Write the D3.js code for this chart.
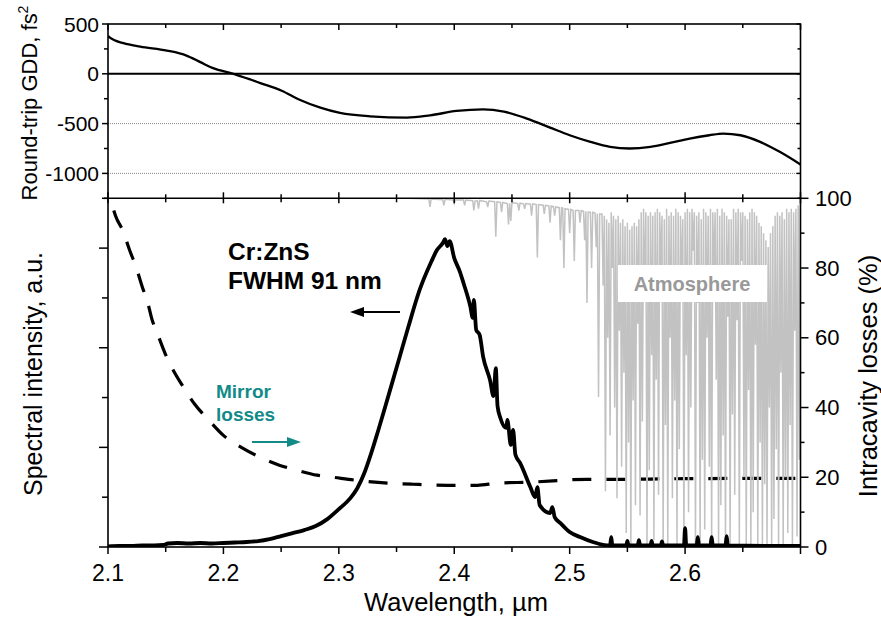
<!DOCTYPE html>
<html><head><meta charset="utf-8">
<script src="https://cdn.jsdelivr.net/npm/d3@7"></script>
<style>
body{margin:0;background:#fff}
svg{display:block}
text{font-family:"Liberation Sans",Arial,Helvetica,sans-serif}
</style>
</head><body>
<svg id="c" width="881" height="617"></svg>
<script>
// ---------------- DATA ----------------
const xTickLabels = ["2.1","2.2","2.3","2.4","2.5","2.6"];
const gddTickLabels = [500, 0, -500, -1000];
const lossTickLabels = [0, 20, 40, 60, 80, 100];

// Round-trip GDD (fs^2) vs wavelength (um)
const gddWave = [2.100,2.102,2.1135,2.128,2.151,2.168,2.180,2.191,2.2087,2.224,2.232,2.250,2.266,2.284,2.301,2.327,2.359,2.379,2.402,2.425,2.443,2.463,2.483,2.500,2.518,2.535,2.552,2.570,2.587,2.604,2.621,2.633,2.648,2.665,2.682,2.700];
const gddVal  = [380,360,307,273,233,183,117,57,0,-60,-93,-167,-260,-340,-393,-427,-440,-417,-373,-357,-380,-450,-540,-617,-683,-733,-750,-733,-693,-650,-617,-600,-617,-683,-783,-910];

// Mirror losses (%) - dashed
const lossWave = [2.105,2.1065,2.113,2.119,2.124,2.130,2.134,2.138,2.1435,2.1496,2.156,2.165,2.175,2.187,2.200,2.217,2.232,2.249,2.264,2.281,2.295,2.316,2.344,2.364,2.394,2.420,2.437,2.466,2.515,2.538,2.600,2.700];
const lossVal  = [96.5,95,90.6,84.9,80.6,74.3,70.6,65.4,60.6,55.4,51,46,41,36.5,32,28.3,25.7,23.4,22,20.6,20,19.1,18.3,18,17.7,17.7,18.3,18.6,19.4,19.4,19.6,19.7];

// Cr:ZnS spectrum (a.u.)
const specWave = [2.100,2.110,2.120,2.130,2.140,2.148,2.152,2.160,2.170,2.180,2.190,2.200,2.210,2.220,2.230,2.240,2.250,2.260,2.270,2.280,2.290,2.300,2.310,2.316,2.322,2.328,2.334,2.340,2.346,2.352,2.360,2.370,2.380,2.385,2.390,2.392,2.394,2.396,2.400,2.405,2.408,2.414,2.416,2.417,2.419,2.422,2.425,2.431,2.434,2.436,2.4375,2.440,2.445,2.446,2.449,2.451,2.453,2.457,2.466,2.470,2.472,2.474,2.483,2.485,2.487,2.492,2.500,2.509,2.520,2.530,2.535,2.536,2.537,2.549,2.550,2.551,2.559,2.560,2.561,2.570,2.571,2.572,2.579,2.580,2.581,2.599,2.600,2.601,2.610,2.611,2.612,2.622,2.623,2.624,2.635,2.636,2.637,2.700];
const specVal  = [0.01,0.02,0.02,0.03,0.03,0.04,0.07,0.08,0.07,0.08,0.07,0.08,0.09,0.10,0.12,0.16,0.22,0.28,0.34,0.42,0.56,0.76,0.98,1.18,1.48,1.88,2.33,2.80,3.28,3.76,4.40,5.16,5.72,5.96,6.10,6.18,6.04,6.14,5.80,5.52,5.30,4.82,4.60,4.96,4.36,4.26,3.82,3.35,3.03,3.59,2.83,2.59,2.39,2.55,2.05,2.35,1.85,1.69,1.20,1.00,1.20,0.84,0.68,0.80,0.60,0.48,0.30,0.20,0.10,0.04,0.03,0.20,0.03,0.03,0.12,0.03,0.03,0.14,0.03,0.03,0.12,0.03,0.03,0.11,0.03,0.03,0.38,0.03,0.03,0.20,0.03,0.03,0.20,0.03,0.03,0.22,0.03,0.02];

// Atmosphere (% scale, hanging from top) as polyline points
const atmWave = [2.360,2.378,2.379,2.380,2.390,2.391,2.392,2.399,2.400,2.401,2.408,2.409,2.410,2.416,2.417,2.418,2.420,2.421,2.422,2.428,2.429,2.430,2.435,2.436,2.437,2.440,2.441,2.442,2.446,2.447,2.448,2.449,2.450,2.455,2.456,2.457,2.460,2.461,2.462,2.466,2.467,2.468,2.471,2.472,2.473,2.477,2.478,2.479,2.482,2.483,2.484,2.486,2.487,2.488,2.491,2.492,2.493,2.494,2.495,2.496,2.499,2.500,2.501,2.503,2.504,2.505,2.508,2.509,2.510,2.512,2.513,2.514,2.515,2.516,2.518,2.519,2.520,2.522,2.523,2.524,2.525,2.526,2.528,2.529,2.530,2.531,2.532,2.533,2.534,2.535,
2.536,2.537,2.538,2.539,2.540,2.541,2.542,2.543,2.544,2.545,2.546,2.547,2.548,2.549,2.550,2.551,2.552,2.553,2.554,2.555,2.556,2.557,2.558,2.559,2.560,2.561,2.562,2.563,2.564,2.565,2.566,2.567,2.568,2.569,2.570,2.571,2.572,2.573,2.574,2.575,2.576,2.577,2.578,2.579,2.580,2.581,2.582,2.583,2.584,2.585,2.586,2.587,2.588,2.589,2.590,2.591,2.592,2.593,2.594,2.595,2.596,2.597,2.598,2.599,2.600,2.601,2.602,2.603,2.604,2.605,2.606,2.607,2.608,2.609,2.610,2.611,2.612,2.613,2.614,2.615,2.616,2.617,2.618,2.619,2.620,2.621,2.622,2.623,2.624,2.625,2.626,2.627,2.628,2.629,2.630,2.631,2.632,2.633,2.634,2.635,2.636,2.637,2.638,2.639,2.640,2.641,2.642,2.643,2.644,2.645,2.646,2.647,2.648,2.649,2.650,2.651,2.652,2.653,2.654,2.655,2.656,2.657,2.658,2.659,2.660,2.661,2.662,2.663,2.664,2.665,2.666,2.667,2.668,2.669,2.670,2.671,2.672,2.673,2.674,2.675,2.676,2.677,2.678,2.679,2.680,2.681,2.682,2.683,2.684,2.685,2.686,2.687,2.688,2.689,2.690,2.691,2.692,2.693,2.694,2.695,2.696,2.697,2.698,2.699,2.700];
const atmVal = [100,99.8,97.5,99.8,99.6,98,99.7,99.5,98.5,99.6,99.5,98,99.5,99.3,96.5,99.2,99.3,97,99.4,99,97.5,99.2,99,89,99,98.8,96,98.8,98.5,92.5,98.6,93.5,98.8,98.5,96.5,98.6,98.4,97,98.5,98.3,95,98.4,98.2,83,98.2,98,95.5,98,97.8,93,97.8,97.6,95,97.5,97.3,88,97.3,97.2,80,97,96.8,90,96.8,96.5,82,96.5,96.5,93,96.5,96.3,88,96.3,70,96,96,80,96,95.8,86,95.6,43,95.5,95.5,75,95,16,94,60,93,32,
96,80,95,40,94,14,95,62,93,23,94,50,92,4,93,30,91,0,92,42,93,12,92,64,94,9,96,36,97,72,96,0,95,22,96,55,95,2,96,48,97,15,96,80,95,0,94,35,97,0,95,60,96,14,95,42,97,0,96,28,95,75,94,0,96,55,97,10,96,40,97,85,96,0,95,70,96,0,94,25,97,5,96,60,95,23,97,0,96,78,96,48,97,0,95,12,97,32,96,0,95,66,94,0,94,38,97,15,96,65,97,0,96,82,96,20,95,0,94,45,96,0,97,10,96,58,95,0,93,30,92,0,90,18,88,0,86,40,90,0,92,8,95,28,96,0,95,50,96,0,94,20,97,4,96,35,97,0,96,62,97,3,98,25,97];

// ---------------- LAYOUT / SCALES ----------------
const X0 = 108, X1 = 800.5;
const TOP0 = 24, MID = 198.3, BOT = 547;
const x  = d3.scaleLinear().domain([2.1, 2.7]).range([X0, X1]);
const yG = d3.scaleLinear().domain([-1250, 500]).range([MID, TOP0]);
const yL = d3.scaleLinear().domain([0, 100]).range([BOT, MID]);
const yS = d3.scaleLinear().domain([0, 7]).range([BOT, MID]);

const svg = d3.select("#c");
const defs = svg.append("defs");
defs.append("clipPath").attr("id","clipTop").append("rect").attr("x",X0).attr("y",TOP0).attr("width",X1-X0).attr("height",MID-TOP0);
defs.append("clipPath").attr("id","clipBot").append("rect").attr("x",X0).attr("y",MID).attr("width",X1-X0).attr("height",BOT-MID);

// ---------------- TOP PANEL ----------------
const gTop = svg.append("g");
gTop.selectAll("line.grid").data([-500,-1000]).enter().append("line")
  .attr("x1",X0).attr("x2",X1).attr("y1",d=>yG(d)).attr("y2",d=>yG(d))
  .attr("stroke","#8a8a8a").attr("stroke-width",1).attr("stroke-dasharray","1,1");
gTop.append("line").attr("x1",X0).attr("x2",X1).attr("y1",yG(0)).attr("y2",yG(0))
  .attr("stroke","#000").attr("stroke-width",2);
const gddData = gddWave.map((w,i)=>[w,gddVal[i]]);
gTop.append("path").datum(gddData).attr("clip-path","url(#clipTop)")
  .attr("fill","none").attr("stroke","#000").attr("stroke-width",2.3)
  .attr("d", d3.line().x(d=>x(d[0])).y(d=>yG(d[1])).curve(d3.curveMonotoneX));

// ---------------- BOTTOM PANEL ----------------
const gBot = svg.append("g").attr("clip-path","url(#clipBot)");
const lossData = lossWave.map((w,i)=>[w,lossVal[i]]);
gBot.append("path").datum(lossData)
  .attr("fill","none").attr("stroke","#000").attr("stroke-width",3.2)
  .attr("stroke-dasharray","19,15")
  .attr("d", d3.line().x(d=>x(d[0])).y(d=>yL(d[1])).curve(d3.curveMonotoneX));

const atmData = atmWave.map((w,i)=>[w,atmVal[i]]);
gBot.append("path").datum(atmData)
  .attr("fill","none").attr("stroke","#c2c2c2").attr("stroke-width",1.5)
  .attr("d", d3.line().x(d=>x(d[0])).y(d=>yL(d[1])));

svg.append("rect").attr("x",618).attr("y",265).attr("width",149).attr("height",37).attr("fill","#fff");
svg.append("text").attr("x",692).attr("y",291).attr("text-anchor","middle")
  .attr("font-size",20).attr("font-weight","bold").attr("fill","#999").text("Atmosphere");

const specData = specWave.map((w,i)=>[w,specVal[i]]);
gBot.append("path").datum(specData)
  .attr("fill","none").attr("stroke","#000").attr("stroke-width",3.8).attr("stroke-linejoin","round")
  .attr("d", d3.line().x(d=>x(d[0])).y(d=>yS(d[1])).curve(d3.curveMonotoneX));

// ---------------- AXES ----------------
const majorX = d3.range(0, 7).map(i => 2.1 + i*0.1);
const minorX = d3.range(0, 6).map(i => 2.15 + i*0.1);
function tickLines(g, vals, fx, y1, y2){
  g.selectAll(null).data(vals).enter().append("line")
   .attr("x1",d=>fx(d)).attr("x2",d=>fx(d)).attr("y1",y1).attr("y2",y2)
   .attr("stroke","#000").attr("stroke-width",1.5);
}
function tickLinesH(g, vals, fy, x1, x2){
  g.selectAll(null).data(vals).enter().append("line")
   .attr("y1",d=>fy(d)).attr("y2",d=>fy(d)).attr("x1",x1).attr("x2",x2)
   .attr("stroke","#000").attr("stroke-width",1.5);
}
const ax = svg.append("g");
tickLines(ax, majorX, x, TOP0, TOP0+6);
tickLines(ax, minorX, x, TOP0, TOP0+4);
tickLines(ax, majorX, x, MID-6, MID+5);
tickLines(ax, minorX, x, MID-4, MID+4);
tickLines(ax, majorX, x, BOT, BOT+7);
tickLines(ax, minorX, x, BOT, BOT+5);
const gMaj = [500,0,-500,-1000], gMin = [250,-250,-750,-1250];
tickLinesH(ax, gMaj, yG, X0-6, X0);
tickLinesH(ax, gMin, yG, X0-4, X0);
tickLinesH(ax, gMaj, yG, X1-4, X1);
tickLinesH(ax, gMin, yG, X1-3, X1);
tickLinesH(ax, [0,2,4,6], yS, X0-9, X0);
tickLinesH(ax, [1,3,5,7], yS, X0-6, X0);
tickLinesH(ax, [0,20,40,60,80,100], yL, X1, X1+8);
tickLinesH(ax, [10,30,50,70,90], yL, X1, X1+4);

ax.append("rect").attr("x",X0).attr("y",TOP0).attr("width",X1-X0).attr("height",BOT-TOP0)
  .attr("fill","none").attr("stroke","#000").attr("stroke-width",1.6);
ax.append("line").attr("x1",X0).attr("x2",X1).attr("y1",MID).attr("y2",MID)
  .attr("stroke","#000").attr("stroke-width",1.6);

ax.selectAll(null).data(xTickLabels).enter().append("text")
  .attr("x",d=>x(+d)).attr("y",581).attr("text-anchor","middle")
  .attr("font-size",23).text(d=>d);
ax.selectAll(null).data(gddTickLabels).enter().append("text")
  .attr("x",99).attr("y",d=>yG(d)+7.5).attr("text-anchor","end")
  .attr("font-size",21).text(d=>d);
ax.selectAll(null).data(lossTickLabels).enter().append("text")
  .attr("x",815).attr("y",d=>yL(d)+7.5).attr("text-anchor","start")
  .attr("font-size",22).text(d=>d);

const t1 = svg.append("text").attr("transform","translate(37,103) rotate(-90)")
  .attr("text-anchor","middle").attr("font-size",22);
t1.append("tspan").text("Round-trip GDD, fs");
t1.append("tspan").attr("font-size",14).attr("dy",-9).text("2");
svg.append("text").attr("transform","translate(42,374) rotate(-90)")
  .attr("text-anchor","middle").attr("font-size",25).text("Spectral intensity, a.u.");
svg.append("text").attr("transform","translate(877,376) rotate(-90)")
  .attr("text-anchor","middle").attr("font-size",25.5).text("Intracavity losses (%)");
svg.append("text").attr("x",456).attr("y",611).attr("text-anchor","middle")
  .attr("font-size",25.5).text("Wavelength, µm");

svg.append("text").attr("x",228).attr("y",260).attr("font-size",24.5).attr("font-weight","bold").text("Cr:ZnS");
svg.append("text").attr("x",228).attr("y",289).attr("font-size",24.5).attr("font-weight","bold").text("FWHM 91 nm");
svg.append("line").attr("x1",400).attr("x2",360).attr("y1",312).attr("y2",312).attr("stroke","#000").attr("stroke-width",2);
svg.append("path").attr("d","M350,312 L364,307 L364,317 Z").attr("fill","#000");

const TEAL = "#128b88";
svg.append("text").attr("x",216).attr("y",398).attr("font-size",19).attr("font-weight","bold").attr("fill",TEAL).text("Mirror");
svg.append("text").attr("x",216).attr("y",421).attr("font-size",19).attr("font-weight","bold").attr("fill",TEAL).text("losses");
svg.append("line").attr("x1",252).attr("x2",290).attr("y1",442).attr("y2",442).attr("stroke",TEAL).attr("stroke-width",2);
svg.append("path").attr("d","M301,442 L287,437 L287,447 Z").attr("fill",TEAL);
</script>
</body></html>
